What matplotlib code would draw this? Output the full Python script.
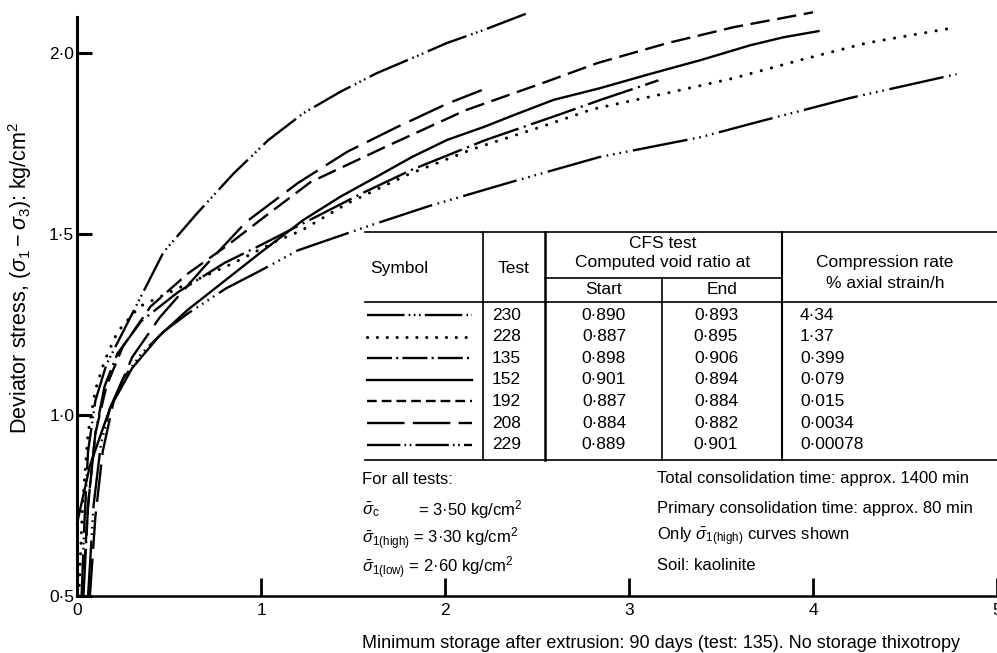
import matplotlib.pyplot as plt
from matplotlib.lines import Line2D

plt.rcParams['font.family'] = ['Liberation Sans', 'DejaVu Sans']
plt.rcParams['mathtext.fontset'] = 'custom'
plt.rcParams['mathtext.rm'] = 'Liberation Sans'
plt.rcParams['mathtext.it'] = 'Liberation Sans:italic'
plt.rcParams['mathtext.bf'] = 'Liberation Sans:bold'
plt.rcParams['lines.scale_dashes'] = False

# storage time (x) vs deviator stress (y) for each test
x230 = [0.025, 0.04, 0.06, 0.1, 0.16, 0.24, 0.35, 0.47, 0.65, 0.85, 1.04, 1.23, 1.43, 1.63, 1.82, 2.01, 2.21, 2.45]
y230 = [0.50, 0.70, 0.90, 1.04, 1.14, 1.22, 1.33, 1.45, 1.556, 1.667, 1.76, 1.834, 1.893, 1.945, 1.986, 2.028, 2.064, 2.111]

x228 = [0.01, 0.03, 0.06, 0.1, 0.15, 0.22, 0.34, 0.59, 0.85, 1.08, 1.22, 1.47, 1.8, 2.15, 2.52, 2.8, 3.2, 3.57, 3.93, 4.29, 4.75]
y228 = [0.50, 0.75, 0.95, 1.07, 1.15, 1.23, 1.30, 1.36, 1.42, 1.48, 1.51, 1.585, 1.665, 1.735, 1.796, 1.845, 1.889, 1.931, 1.981, 2.028, 2.069]

x135 = [0.035, 0.06, 0.1, 0.15, 0.22, 0.35, 0.55, 0.8, 1.0, 1.23, 1.55, 1.82, 2.22, 2.63, 2.84, 3.16]
y135 = [0.50, 0.75, 0.95, 1.08, 1.17, 1.26, 1.34, 1.42, 1.47, 1.53, 1.613, 1.678, 1.76, 1.832, 1.87, 1.925]

x152 = [0.0, 0.07, 0.18, 0.3, 0.45, 0.6, 0.8, 1.0, 1.23, 1.43, 1.63, 1.82, 2.01, 2.21, 2.4, 2.59, 2.84, 3.11, 3.39, 3.66, 3.84, 4.03]
y152 = [0.70, 0.86, 1.02, 1.13, 1.22, 1.29, 1.37, 1.45, 1.539, 1.603, 1.659, 1.713, 1.76, 1.796, 1.834, 1.871, 1.903, 1.942, 1.981, 2.022, 2.044, 2.061]

x192 = [0.03, 0.06, 0.1, 0.16, 0.25, 0.4, 0.6, 0.82, 1.04, 1.27, 1.68, 2.11, 2.55, 2.83, 3.21, 3.57, 4.0]
y192 = [0.50, 0.75, 0.95, 1.08, 1.19, 1.30, 1.39, 1.47, 1.556, 1.644, 1.742, 1.842, 1.921, 1.973, 2.028, 2.072, 2.113]

x208 = [0.07, 0.1, 0.14, 0.2, 0.3, 0.45, 0.69, 0.92, 1.2, 1.47, 1.74, 2.01, 2.2]
y208 = [0.50, 0.72, 0.90, 1.04, 1.16, 1.27, 1.409, 1.534, 1.641, 1.728, 1.796, 1.86, 1.898]

x229 = [0.06, 0.09, 0.13, 0.18, 0.25, 0.35, 0.47, 0.6, 0.81, 1.0, 1.2, 1.57, 1.91, 2.36, 2.84, 3.39, 3.7, 4.2, 4.78]
y229 = [0.50, 0.75, 0.92, 1.02, 1.10, 1.17, 1.23, 1.28, 1.35, 1.40, 1.455, 1.52, 1.577, 1.644, 1.713, 1.768, 1.81, 1.876, 1.942]

tests = ['230', '228', '135', '152', '192', '208', '229']
void_start = ['0·890', '0·887', '0·898', '0·901', '0·887', '0·884', '0·889']
void_end = ['0·893', '0·895', '0·906', '0·894', '0·884', '0·882', '0·901']
comp_rate = ['4·34', '1·37', '0·399', '0·079', '0·015', '0·0034', '0·00078']

curves = {'230': (x230, y230), '228': (x228, y228), '135': (x135, y135),
          '152': (x152, y152), '192': (x192, y192), '208': (x208, y208),
          '229': (x229, y229)}

# dash patterns (in points) along the curves
curve_dash = {
    '230': (0, (30, 3.5, 1.2, 2.5, 1.2, 2.5, 1.2, 3.5)),
    '228': (0, (0.1, 7.5)),
    '135': (0, (34, 4, 1.5, 4)),
    '152': '-',
    '192': (0, (14, 5.5)),
    '208': (0, (27, 7)),
    '229': (0, (40, 4, 1.2, 3.5, 1.2, 3.5, 1.2, 3.5, 1.2, 4)),
}
# shorter patterns for the symbol column of the table
key_dash = {
    '230': (0, (27, 3, 1.2, 2.5, 1.2, 2.5, 1.2, 3)),
    '228': (0, (0.1, 7)),
    '135': (0, (18, 3, 1.5, 3)),
    '152': '-',
    '192': (0, (7, 3.6)),
    '208': (0, (27, 6)),
    '229': (0, (24, 3, 1.2, 2.5, 1.2, 3)),
}


def line_kw(t, dashes):
    kw = dict(color='black', ls=dashes[t], lw=1.7)
    if t == '228':
        kw.update(lw=2.2, dash_capstyle='round')
    return kw


W, H = 997, 653
fig = plt.figure(figsize=(W / 100, H / 100), dpi=100)
ax = fig.add_axes([77 / W, 1 - 596 / H, 920 / W, 579 / H])

for t in tests:
    xs, ys = curves[t]
    ax.plot(xs, ys, clip_on=False, **line_kw(t, curve_dash))

ax.set_xlim(0, 5)
ax.set_ylim(0.5, 2.1)
for side in ['top', 'right']:
    ax.spines[side].set_visible(False)
ax.spines['left'].set_linewidth(2.2)
ax.spines['bottom'].set_linewidth(1.8)
ax.set_yticks([0.5, 1.0, 1.5, 2.0])
ax.set_yticklabels(['0·5', '1·0', '1·5', '2·0'])
ax.set_xticks([0, 1, 2, 3, 4, 5])
ax.set_xticklabels(['0', '1', '2', '3', '4', '5'])
ax.tick_params(axis='y', direction='in', length=11, width=2.2, labelsize=12.5, pad=2)
ax.tick_params(axis='x', direction='in', length=13, width=2.0, labelsize=12.5, pad=5)

fig.text(20 / W, 1 - 278 / H, r'Deviator stress, $(\sigma_1 - \sigma_3)$: kg/cm$^2$',
         rotation=90, ha='center', va='center', fontsize=15.5)


def px(x, y):
    return x / W, 1 - y / H


def hline(x0, x1, y, lw=1.2):
    fig.add_artist(Line2D([x0 / W, x1 / W], [1 - y / H, 1 - y / H],
                          transform=fig.transFigure, color='black', lw=lw))


def vline(x, y0, y1, lw=1.2):
    fig.add_artist(Line2D([x / W, x / W], [1 - y0 / H, 1 - y1 / H],
                          transform=fig.transFigure, color='black', lw=lw))


def label(x, y, s, ha='left', size=12.5):
    fig.text(*px(x, y), s, ha=ha, va='center', fontsize=size)


# table frame
top, sub, hdr, bot = 232, 278, 302, 460
left, c1, c2, c3, c4, right = 365, 483, 545, 662, 782, 997
hline(left, right, top)
hline(c2, c4, sub)
hline(left, right, hdr)
hline(left, right, bot)
vline(c1, top, bot)
vline(c2, top, bot, lw=1.8)
vline(c3, sub, bot)
vline(c4, top, bot, lw=1.5)

label(370, 268, 'Symbol')
label(514, 268, 'Test', ha='center')
label(663, 243, 'CFS test', ha='center')
label(663, 262, 'Computed void ratio at', ha='center')
label(603, 290, 'Start', ha='center')
label(722, 290, 'End', ha='center')
label(885, 262, 'Compression rate', ha='center')
label(885, 284, '% axial strain/h', ha='center')

for i, t in enumerate(tests):
    ry = 315 + 21.6 * i
    fig.add_artist(Line2D([367 / W, 472 / W], [1 - ry / H, 1 - ry / H],
                          transform=fig.transFigure, **line_kw(t, key_dash)))
    label(492, ry, t)
    label(604, ry, void_start[i], ha='center')
    label(716, ry, void_end[i], ha='center')
    label(800, ry, comp_rate[i])

# test conditions
label(362, 479, 'For all tests:', size=12)
label(362, 510, r'$\bar{\sigma}_{\mathrm{c}}$', size=12)
label(418, 510, '= 3·50 kg/cm$^2$', size=12)
label(362, 539, r'$\bar{\sigma}_{1(\mathrm{high})}$ = 3·30 kg/cm$^2$', size=12)
label(362, 568, r'$\bar{\sigma}_{1(\mathrm{low})}$ = 2·60 kg/cm$^2$', size=12)
label(657, 479, 'Total consolidation time: approx. 1400 min', size=12)
label(657, 508, 'Primary consolidation time: approx. 80 min', size=12)
label(657, 537, r'Only $\bar{\sigma}_{1(\mathrm{high})}$ curves shown', size=12)
label(657, 566, 'Soil: kaolinite', size=12)

label(362, 643, 'Minimum storage after extrusion: 90 days (test: 135). No storage thixotropy',
      size=13)

fig.savefig('out.png', dpi=100)
